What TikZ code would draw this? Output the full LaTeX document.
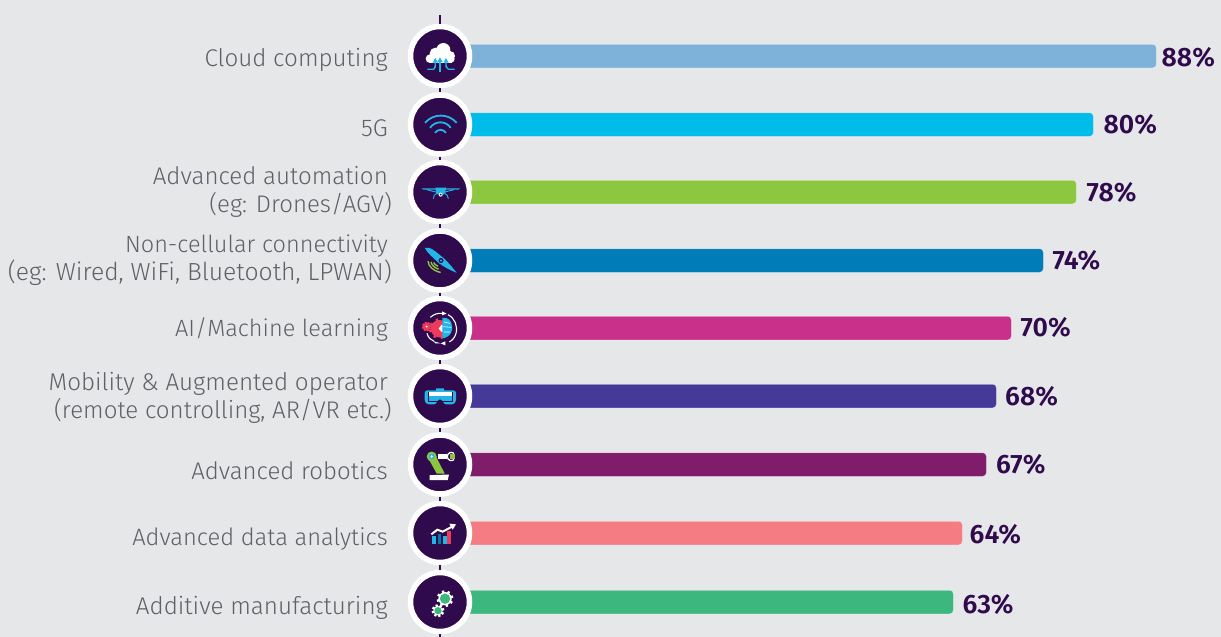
\documentclass[tikz,border=0pt]{standalone}
\usepackage{fontspec}
\setmainfont[UprightFont=* Light,BoldFont=* SemiBold]{Fira Sans}
\usetikzlibrary{arrows.meta}
\definecolor{bgc}{HTML}{E6E7E9}
\definecolor{plum}{HTML}{2F0A4D}
\definecolor{txt}{HTML}{5F6068}
\definecolor{skyi}{HTML}{22B5E8}
\definecolor{limei}{HTML}{8CC63F}
\definecolor{redi}{HTML}{EE3A5B}
\definecolor{cA}{HTML}{7FB2D9}
\definecolor{cB}{HTML}{00BCEB}
\definecolor{cC}{HTML}{8DC73F}
\definecolor{cD}{HTML}{007DB8}
\definecolor{cE}{HTML}{C8308A}
\definecolor{cF}{HTML}{453A98}
\definecolor{cG}{HTML}{7F1D6B}
\definecolor{cH}{HTML}{F67C84}
\definecolor{cI}{HTML}{3CB87F}
\newcommand{\fs}[1]{\fontsize{#1}{28}\selectfont}
\tikzset{
  lab/.style={anchor=east,text=txt,font=\fontsize{24}{28}\selectfont,align=right,inner sep=0pt},
  val/.style={anchor=west,text=plum,font=\fontsize{26.6}{28}\selectfont\bfseries,inner sep=0pt},
  barn/.style={anchor=west,rounded corners=3.5pt,minimum height=23.5pt,inner sep=0pt,draw=white,draw opacity=.35,line width=.5pt},
  disc/.style={circle,fill=plum,draw=white,line width=5.5pt,minimum size=59pt,inner sep=0pt},
  spine/.style={draw=plum,line width=1.6pt},
  ico/.style={x=0.3333pt,y=-0.3333pt}
}
\newcommand{\gearshape}[5]{%
  \foreach \a in {0,45,...,315}{\fill[#5,rotate around={\a+15:(#1,#2)}] ({#1-3.5},{#2-#3-5}) rectangle ({#1+3.5},{#2});}
  \fill[#5] (#1,#2) circle (#3);
  \fill[#4] (#1,#2) circle ({#3*0.78});
}
\begin{document}
\begin{tikzpicture}[x=1pt,y=-1pt]
\useasboundingbox (0,0) rectangle (1221,637);
\fill[bgc] (0,0) rectangle (1221,637);
\coordinate (top) at (440,15);
\coordinate (bot) at (440,637);
% bars
\node[barn,fill=cA,minimum width=691pt] (b1) at (465,56) {};
\node[barn,fill=cB,minimum width=628pt] (b2) at (465,124.5) {};
\node[barn,fill=cC,minimum width=611pt] (b3) at (465,192) {};
\node[barn,fill=cD,minimum width=578pt] (b4) at (465,260.5) {};
\node[barn,fill=cE,minimum width=546pt] (b5) at (465,328) {};
\node[barn,fill=cF,minimum width=531pt] (b6) at (465,396) {};
\node[barn,fill=cG,minimum width=521pt] (b7) at (465,464.5) {};
\node[barn,fill=cH,minimum width=497pt] (b8) at (465,533) {};
\node[barn,fill=cI,minimum width=488pt] (b9) at (465,602) {};
% discs
\node[disc] (c1) at (440,56) {};
\node[disc] (c2) at (440,124.5) {};
\node[disc] (c3) at (440,192) {};
\node[disc] (c4) at (440,260.5) {};
\node[disc] (c5) at (440,328) {};
\node[disc] (c6) at (440,396) {};
\node[disc] (c7) at (440,464.5) {};
\node[disc] (c8) at (440,533) {};
\node[disc] (c9) at (440,602) {};
\draw[spine] (top) -- (c1);
\draw[spine] (c1) -- (c2);
\draw[spine] (c2) -- (c3);
\draw[spine] (c3) -- (c4);
\draw[spine] (c4) -- (c5);
\draw[spine] (c5) -- (c6);
\draw[spine] (c6) -- (c7);
\draw[spine] (c7) -- (c8);
\draw[spine] (c8) -- (c9);
\draw[spine] (c9) -- (bot);
% values
\node[val,xshift=5pt,yshift=-1pt] (v1) at (b1.east) {88\%};
\node[val,xshift=10pt] (v2) at (b2.east) {80\%};
\node[val,xshift=10pt] (v3) at (b3.east) {78\%};
\node[val,xshift=9pt] (v4) at (b4.east) {74\%};
\node[val,xshift=9pt,yshift=1pt] (v5) at (b5.east) {70\%};
\node[val,xshift=8.5pt] (v6) at (b6.east) {68\%};
\node[val,xshift=9.5pt] (v7) at (b7.east) {67\%};
\node[val,xshift=7pt,yshift=-1pt] (v8) at (b8.east) {64\%};
\node[val,xshift=9pt,yshift=-2pt] (v9) at (b9.east) {63\%};
% labels
\node[lab] (l1) at (388,60) {\fs{24.2}Cloud computing};
\node[lab] (l2) at (388,128) {\fs{24.2}5G};
\node[lab] (l3) at (392,192) {\fs{24.1}Advanced automation\hspace*{4pt}\\\fs{24}(eg: Drones/AGV)};
\node[lab] (l4) at (392,260) {\fs{23.5}Non-cellular connectivity\hspace*{4pt}\\\fs{24.7}(eg: Wired, WiFi, Bluetooth, LPWAN)};
\node[lab] (l5) at (388,329) {\fs{23.5}AI/Machine learning};
\node[lab] (l6) at (392,398) {\fs{24.2}Mobility \& Augmented operator\hspace*{4pt}\\\fs{24.1}(remote controlling, AR/VR etc.)};
\node[lab] (l7) at (388,471) {\fs{24}Advanced robotics};
\node[lab] (l8) at (388,539) {\fs{23.7}Advanced data analytics};
\node[lab] (l9) at (388,608) {\fs{24.2}Additive manufacturing};
% ---- icon 1 cloud
\begin{scope}[shift={(c1.center)},ico]
\fill[white] (-30,8) circle (13) (-14,-8) circle (17) (10,-18) circle (21) (30,0) circle (15) (33,9) circle (11);
\fill[white] (-30,0) rectangle (35,20);
\draw[skyi,line width=1.3pt] (0,47) -- (0,14);
\draw[skyi,line width=1.3pt] (-38,40) -- (-20,40) to[out=0,in=90] (-14,30) -- (-14,16);
\draw[skyi,line width=1.3pt] (44,40) -- (26,40) to[out=180,in=90] (18,30) -- (18,16);
\fill[skyi] (0,4) -- (-8,18) -- (8,18) -- cycle;
\fill[skyi] (-14,6) -- (-22,20) -- (-6,20) -- cycle;
\fill[skyi] (18,6) -- (10,20) -- (26,20) -- cycle;
\end{scope}
% ---- icon 2 wifi
\begin{scope}[shift={(c2.center)},ico]
\draw[skyi,line width=1.8pt] (-45,-5) .. controls (-20,-34) and (25,-34) .. (50,-5);
\draw[skyi,line width=1.8pt] (-30,10) .. controls (-15,-12) and (18,-12) .. (32,10);
\draw[skyi,line width=1.8pt] (-15,25) .. controls (-7,13) and (10,13) .. (18,25);
\end{scope}
% ---- icon 3 drone
\begin{scope}[shift={(c3.center)},ico]
\fill[skyi] (-55,-11) -- (60,-11) -- (56,-7) -- (-50,-7) -- cycle;
\fill[skyi] (-13,-13) -- (17,-13) to[out=90,in=20] (12,7) -- (-8,7) to[out=160,in=90] (-13,-13);
\draw[skyi,line width=.9pt] (-10,4) .. controls (-16,7) and (-20,12) .. (-20,20);
\draw[skyi,line width=.9pt] (14,4) .. controls (20,7) and (25,12) .. (25,20);
\draw[skyi,line width=.9pt] (-40,-7) -- (-13,0) (42,-7) -- (15,0);
\fill[white] (2,8) circle (6);
\fill[plum] (2,8) circle (3);
\end{scope}
% ---- icon 4 blade
\begin{scope}[shift={(c4.center)},ico]
\fill[skyi] (-46,-38) .. controls (-30,-44) and (-10,-24) .. (10,-8) .. controls (25,5) and (38,22) .. (50,37) .. controls (28,28) and (10,18) .. (-3,8) .. controls (-20,-8) and (-38,-22) .. (-46,-38) -- cycle;
\fill[skyi] (3,0) circle (10);
\fill[plum] (3,0) circle (7.5);
\fill[skyi] (3,0) circle (3.5);
\draw[limei,line width=1.4pt] (-36,2) .. controls (-34,18) and (-22,30) .. (2,36);
\draw[limei,line width=1.4pt] (-27,4) .. controls (-25,14) and (-16,22) .. (-4,26);
\draw[limei,line width=1.4pt] (-19,6) .. controls (-17,11) and (-12,15) .. (-6,17);
\end{scope}
% ---- icon 5 AI
\begin{scope}[shift={(c5.center)},ico]
\gearshape{-2}{2}{26}{redi}{redi}
\fill[skyi] (7,-30) .. controls (22,-34) and (36,-22) .. (36,-6) .. controls (40,8) and (30,26) .. (14,30) -- (7,30) -- (7,10) -- (0,2) -- (7,-6) -- cycle;
\fill[plum] (-10,-30) rectangle (6.5,-38);
\fill[white] (-4,2) -- (5,-10) -- (7,-10) -- (7,12) -- (5,12) -- cycle;
\draw[white,line width=.6pt] (12,-18) -- (30,-14) (10,-4) -- (34,-2) (12,12) -- (30,12);
\gearshape{-40}{-4}{9}{redi}{redi}
\fill[white] (-40,-4) circle (3);
\draw[white,line width=1.1pt] (-29,-32) .. controls (-18,-42) and (-6,-45) .. (6,-44);
\draw[white,line width=1.1pt] (24,-40) .. controls (44,-30) and (54,-6) .. (48,16) .. controls (45,28) and (38,36) .. (28,42);
\draw[white,line width=1.1pt] (-18,40) .. controls (-28,36) and (-36,28) .. (-39,16);
\fill[white] (20,-43) -- (6,-50) -- (6,-38) -- cycle;
\fill[white] (2,46) -- (16,52) -- (16,40) -- cycle;
\fill[white] (2,46) -- (-18,40) -- (-15,46) -- cycle;
\end{scope}
% ---- icon 6 VR
\begin{scope}[shift={(c6.center)},ico]
\fill[skyi] (-38,-17) -- (-12,-17) -- (-12,-23) -- (12,-23) -- (12,-17) -- (40,-17) to[out=0,in=90] (48,-9) -- (48,12) to[out=-90,in=0] (36,25) -- (18,25) to[out=180,in=0] (0,10) to[out=180,in=0] (-18,25) -- (-34,25) to[out=180,in=-90] (-46,12) -- (-46,-9) to[out=90,in=180] (-38,-17) -- cycle;
\draw[plum,line width=.5pt] (-35,-12) rectangle (37,17);
\fill[white] (-34,-12) rectangle (36,1);
\fill[plum] (-9,24) .. controls (-7,12) and (7,12) .. (9,24) -- (9,30) -- (-9,30) -- cycle;
\end{scope}
% ---- icon 7 robot
\begin{scope}[shift={(c7.center)},ico]
\fill[white] (-31,32) -- (27,30) -- (23,47) -- (-31,47) -- cycle;
\fill[limei] (-36,-20) -- (-16,-32) -- (14,27) -- (-10,27) -- cycle;
\fill[limei] (-25,-24) circle (15);
\fill[skyi] (-25,-24) circle (8.5);
\fill[white] (-25,-24) circle (4);
\fill[white] (-7,-31) rectangle (20,-16);
\draw[white,line width=1.3pt] (22,-24) .. controls (22,-36) and (36,-40) .. (42,-33) (22,-24) .. controls (22,-12) and (36,-8) .. (42,-15);
\fill[limei] (30,-31) rectangle (45,-16);
\end{scope}
% ---- icon 8 chart
\begin{scope}[shift={(c8.center)},ico]
\fill[skyi] (-23,10) rectangle (-12,33);
\fill[cD!60!teal] (-7,2) rectangle (4,33);
\fill[skyi] (9,8) rectangle (20,33);
\fill[redi] (22,-5) rectangle (33,33);
\draw[white,line width=2pt] (-26,4) -- (-8,-10) -- (8,-4) -- (38,-20);
\fill[white] (48,-26) -- (28,-28) -- (38,-10) -- cycle;
\end{scope}
% ---- icon 9 gears
\begin{scope}[shift={(c9.center)},ico]
\gearshape{15}{-10}{20}{cI}{white}
\gearshape{-6}{26}{14}{cI}{white}
\end{scope}
\end{tikzpicture}
\end{document}
